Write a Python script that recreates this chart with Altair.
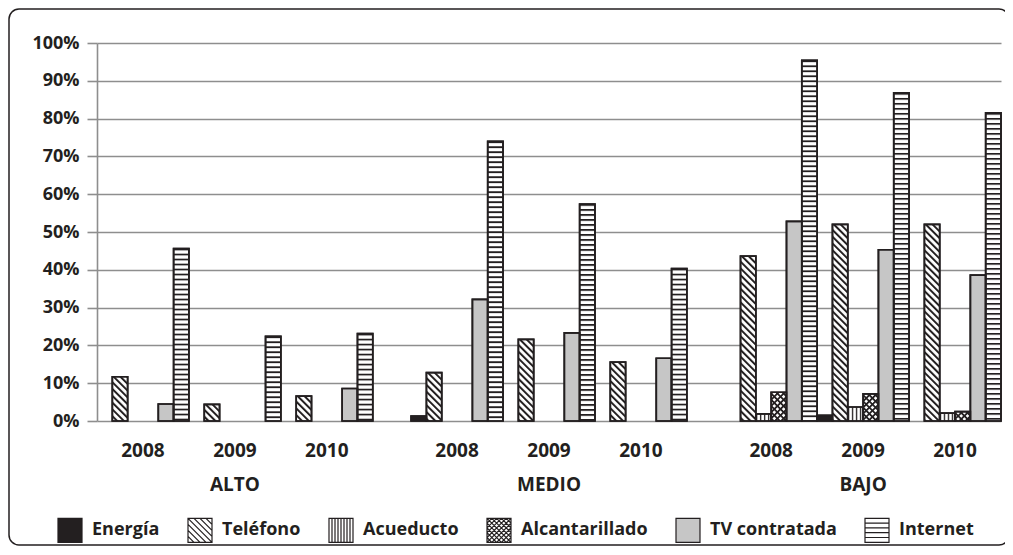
import urllib.parse
import altair as alt
import pandas as pd

# ---------------- data ----------------
STRATA = ["ALTO", "MEDIO", "BAJO"]
YEARS = ["2008", "2009", "2010"]
SERIES = ["Energía", "Teléfono", "Acueducto", "Alcantarillado", "TV contratada", "Internet"]

# percentages, order: ALTO 2008-2010, MEDIO 2008-2010, BAJO 2008-2010
ENERGIA = [0, 0, 0, 1.3, 0, 0, 0, 1.5, 0]
TELEFONO = [11.7, 4.4, 6.6, 12.8, 21.6, 15.6, 43.6, 52.0, 52.0]
ACUEDUCTO = [0, 0, 0, 0, 0, 0, 1.9, 3.7, 2.1]
ALCANTARILLADO = [0, 0, 0, 0, 0, 0, 7.6, 7.2, 2.5]
TV_CONTRATADA = [4.5, 0, 8.6, 32.2, 23.3, 16.6, 52.8, 45.3, 38.6]
INTERNET = [45.6, 22.4, 23.1, 74.0, 57.4, 40.3, 95.4, 86.8, 81.5]

Y_TICKS = list(range(0, 101, 10))

# ---------------- styles ----------------
INK = "#231f20"
GRID = "#8e8e8e"
TV_GRAY = "#c6c6c6"
FONT = "Open Sans"
GAP = 2.5  # empty bar slots between strata

VALUES = dict(zip(SERIES, [ENERGIA, TELEFONO, ACUEDUCTO, ALCANTARILLADO, TV_CONTRATADA, INTERNET]))
FILL = dict(zip(SERIES, [INK, "white", "white", "white", TV_GRAY, "white"]))


def pattern_url(inner, w, h, transform=""):
    svg = (
        "<svg xmlns='http://www.w3.org/2000/svg' width='100%' height='100%'>"
        f"<defs><pattern id='p' patternUnits='userSpaceOnUse' width='{w}' height='{h}' {transform}>"
        f"{inner}</pattern></defs>"
        "<rect width='100%' height='100%' fill='url(#p)'/></svg>"
    )
    return "data:image/svg+xml;charset=utf-8," + urllib.parse.quote(svg)


PATTERN = {
    "Teléfono": pattern_url(f"<rect width='2' height='4.8' fill='{INK}'/>", 4.8, 4.8,
                            "patternTransform='rotate(-45)'"),
    "Acueducto": pattern_url(f"<rect width='1.4' height='4' fill='{INK}'/>", 4, 4),
    "Alcantarillado": pattern_url(
        f"<rect width='1.8' height='4.4' fill='{INK}'/><rect width='4.4' height='1.8' fill='{INK}'/>",
        4.4, 4.4, "patternTransform='rotate(45)'"),
    "Internet": pattern_url(f"<rect width='5' height='1.8' fill='{INK}'/>", 5, 5),
}


def f(v):
    return f"{v:.3f}".rstrip("0").rstrip(".")


SQ = "M-1,-1H1V1H-1Z"


def hlines(n):
    d = 2 / (n + 1)
    return "".join(f"M-1,{f(-1 + i * d)}H1" for i in range(1, n + 1))


def vlines(n):
    d = 2 / (n + 1)
    return "".join(f"M{f(-1 + i * d)},-1V1" for i in range(1, n + 1))


def back_diag(step):
    out = ""
    c = -2 + step
    while c < 2 - 1e-9:
        if c >= 0:
            out += f"M{f(-1 + c)},-1L1,{f(1 - c)}"
        else:
            out += f"M-1,{f(-1 - c)}L{f(1 + c)},1"
        c += step
    return out


def fwd_diag(step):
    out = ""
    c = -2 + step
    while c < 2 - 1e-9:
        if c >= 0:
            out += f"M{f(c - 1)},1L1,{f(c - 1)}"
        else:
            out += f"M-1,{f(c + 1)}L{f(c + 1)},-1"
        c += step
    return out


SHAPES = [
    SQ,
    SQ + back_diag(0.5),
    SQ + vlines(7),
    SQ + back_diag(0.4) + fwd_diag(0.4),
    SQ,
    SQ + hlines(4),
]

# ---------------- tables ----------------
rows = []
for si, s in enumerate(STRATA):
    for yi, yr in enumerate(YEARS):
        gi = si * 3 + yi
        for k, ser in enumerate(SERIES):
            pos = si * (18 + GAP) + yi * 6 + k
            rows.append(dict(strata=s, year=yr, series=ser, value=VALUES[ser][gi], x0=pos, x1=pos + 1))
df = pd.DataFrame(rows)
bars = df[df["value"] > 0].copy()
bars["fillc"] = bars["series"].map(FILL)
pat = bars[bars["series"].isin(list(PATTERN))].copy()
pat["url"] = pat["series"].map(PATTERN)

year_lab = pd.DataFrame([
    dict(label=yr, c=si * (18 + GAP) + yi * 6 + 3)
    for si in range(len(STRATA)) for yi, yr in enumerate(YEARS)
])
strata_lab = pd.DataFrame([dict(label=s, c=si * (18 + GAP) + 9) for si, s in enumerate(STRATA)])
legend_df = pd.DataFrame({"series": SERIES})

# ---------------- encodings ----------------
X_MAX = 18 * 3 + 2 * GAP
xscale = alt.Scale(domain=[0, X_MAX], nice=False, zero=False)
yscale = alt.Scale(domain=[0, 100], nice=False)
yaxis = alt.Axis(values=Y_TICKS, labelExpr="datum.value + '%'", title=None, grid=True,
                 gridColor=GRID, gridWidth=1.6, domainColor=GRID, domainWidth=1.6,
                 tickColor=GRID, tickWidth=1.6, tickSize=10, labelPadding=8,
                 labelFont=FONT, labelFontSize=18, labelFontWeight="bold", labelColor=INK)
X = alt.X("x0:Q", scale=xscale, axis=None)
Y = alt.Y("value:Q", scale=yscale, axis=yaxis)

frame = alt.Chart(alt.Data(values=[{}])).mark_rect(
    filled=False, stroke=INK, strokeWidth=1.5, cornerRadius=10
).encode(x=alt.value(-88), x2=alt.value(912), y=alt.value(-34), y2=alt.value(502))

base_bars = alt.Chart(bars).mark_rect(stroke=INK, strokeWidth=1.7).encode(
    x=X, x2="x1", y=Y, y2=alt.datum(0), fill=alt.Fill("fillc:N", scale=None)
)
pattern_layer = alt.Chart(pat).mark_image(aspect=False).encode(
    x=X, x2="x1", y=Y, y2=alt.datum(0), url="url:N"
)
outline = alt.Chart(bars).mark_rect(filled=False, stroke=INK, strokeWidth=1.7).encode(
    x=X, x2="x1", y=Y, y2=alt.datum(0)
)

year_text = alt.Chart(year_lab).mark_text(
    font=FONT, fontSize=19, fontWeight="bold", color=INK, baseline="middle"
).encode(x=alt.X("c:Q", scale=xscale, axis=None), y=alt.value(408), text="label:N")
strata_text = alt.Chart(strata_lab).mark_text(
    font=FONT, fontSize=19, fontWeight="bold", color=INK, baseline="middle"
).encode(x=alt.X("c:Q", scale=xscale, axis=None), y=alt.value(442), text="label:N")

leg = alt.Legend(title=None, orient="none", legendX=-40, legendY=474, direction="horizontal",
                 symbolSize=576, symbolStrokeColor=INK, symbolStrokeWidth=1.2, symbolOpacity=1,
                 labelFont=FONT, labelFontSize=18, labelFontWeight="bold", labelColor=INK,
                 labelOffset=9, columnPadding=25, padding=0, labelLimit=0)
legend_layer = alt.Chart(legend_df).mark_point(
    filled=True, size=0, stroke=INK, strokeWidth=1.2
).encode(
    x=alt.value(-1000), y=alt.value(-1000),
    shape=alt.Shape("series:N", scale=alt.Scale(domain=SERIES, range=SHAPES), legend=leg),
    fill=alt.Fill("series:N", scale=alt.Scale(domain=SERIES, range=[FILL[s] for s in SERIES]), legend=leg),
)

chart = alt.layer(
    frame, base_bars, pattern_layer, outline, year_text, strata_text, legend_layer
).properties(
    width=904, height=378,
    padding={"left": 89, "top": 35, "right": 4, "bottom": 126},
    autosize=alt.AutoSizeParams(type="none"),
    background="white",
).configure_view(strokeWidth=0)

chart.save("out.html", embed_options={"renderer": "svg", "actions": False})
